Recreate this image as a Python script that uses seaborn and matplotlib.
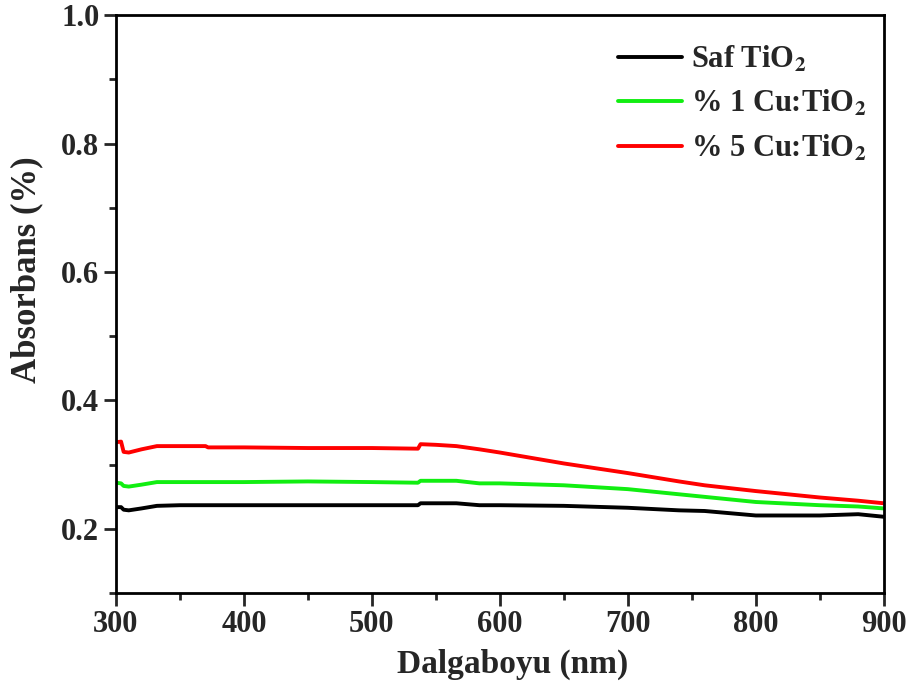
import matplotlib
matplotlib.use("Agg")
import matplotlib.pyplot as plt
from matplotlib.ticker import MultipleLocator
import seaborn as sns
import pandas as pd

# Wavelength grid (nm)
wavelength = [300, 304, 306, 310, 320, 332, 350, 370, 372, 400, 450, 500, 536, 538,
              550, 566, 584, 600, 650, 700, 740, 760, 800, 850, 880, 900]

saf_tio2 = [0.234, 0.234, 0.230, 0.229, 0.232, 0.236, 0.237, 0.237, 0.237, 0.237, 0.237,
            0.237, 0.237, 0.240, 0.240, 0.240, 0.237, 0.237, 0.236, 0.233, 0.229, 0.228,
            0.221, 0.221, 0.223, 0.219]
cu1_tio2 = [0.272, 0.271, 0.267, 0.266, 0.269, 0.273, 0.273, 0.273, 0.273, 0.273, 0.274,
            0.273, 0.272, 0.275, 0.275, 0.275, 0.271, 0.271, 0.268, 0.262, 0.254, 0.250,
            0.242, 0.237, 0.235, 0.232]
cu5_tio2 = [0.335, 0.336, 0.320, 0.319, 0.324, 0.329, 0.329, 0.329, 0.327, 0.327, 0.326,
            0.326, 0.325, 0.332, 0.331, 0.329, 0.324, 0.319, 0.302, 0.287, 0.274, 0.268,
            0.259, 0.249, 0.244, 0.240]

labels = [r"Saf TiO$_\mathbf{2}$", r"% 1 Cu:TiO$_\mathbf{2}$", r"% 5 Cu:TiO$_\mathbf{2}$"]
colors = ["#000000", "#11ee11", "#ff0000"]

df = pd.concat([
    pd.DataFrame({"wl": wavelength, "abs": vals, "sample": lab})
    for vals, lab in zip([saf_tio2, cu1_tio2, cu5_tio2], labels)
])

sns.set_style("ticks")
plt.rcParams["font.family"] = ["Liberation Serif", "DejaVu Serif"]
plt.rcParams["font.weight"] = "bold"
plt.rcParams["mathtext.fontset"] = "stix"

fig = plt.figure(figsize=(9.13, 6.85), dpi=100)
ax = fig.add_axes([0.127, 0.134, 0.841, 0.844])

sns.lineplot(data=df, x="wl", y="abs", hue="sample", palette=colors,
             linewidth=2.8, ax=ax, sort=False)

ax.set_xlim(300, 900)
ax.set_ylim(0.1, 1.0)
ax.xaxis.set_major_locator(MultipleLocator(100))
ax.xaxis.set_minor_locator(MultipleLocator(50))
ax.yaxis.set_major_locator(MultipleLocator(0.2))
ax.yaxis.set_minor_locator(MultipleLocator(0.1))
ax.set_yticks([0.2, 0.4, 0.6, 0.8, 1.0])
ax.tick_params(which="major", length=9, width=2, labelsize=22, direction="out", pad=3)
ax.tick_params(which="minor", length=5, width=2, direction="out")
for s in ax.spines.values():
    s.set_linewidth(2)
    s.set_color("black")
for t in ax.get_xticklabels() + ax.get_yticklabels():
    t.set_fontweight("bold")

ax.set_xlabel("Dalgaboyu (nm)", fontsize=24, fontweight="bold", labelpad=7)
ax.set_ylabel("Absorbans (%)", fontsize=25, fontweight="bold", labelpad=13)
ax.xaxis.label.set_x(0.517)
ax.yaxis.label.set_y(0.56)

leg = ax.legend(title=None, frameon=False, loc="upper right",
                bbox_to_anchor=(1.013, 0.997), prop={"size": 22, "weight": "bold"},
                handlelength=2.1, labelspacing=0.47, handletextpad=0.3)
for line in leg.get_lines():
    line.set_linewidth(2.8)

fig.savefig("out.png", dpi=100)
